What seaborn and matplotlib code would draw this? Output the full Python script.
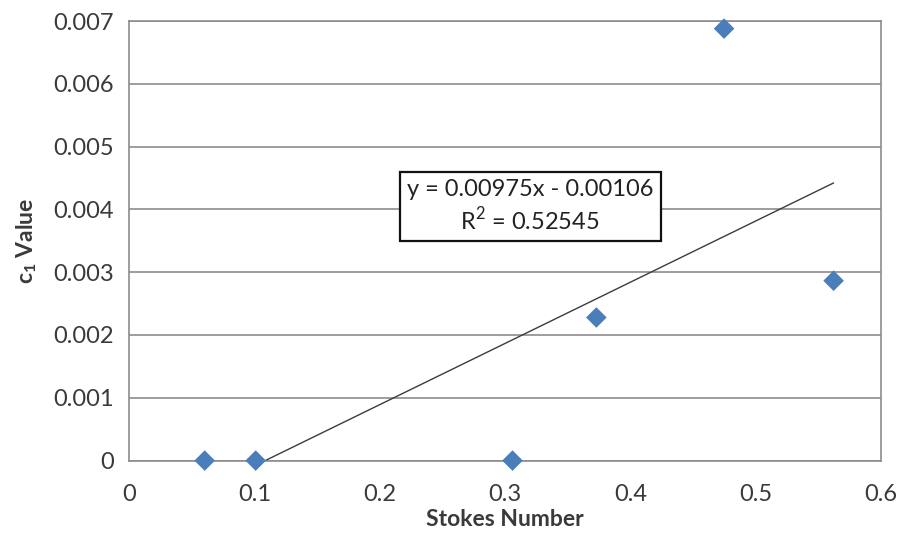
import matplotlib
matplotlib.use("Agg")
import matplotlib.pyplot as plt
import seaborn as sns
import numpy as np
import pandas as pd

# Measured c1 values against Stokes number
stokes = [0.0604, 0.1011, 0.306, 0.3729, 0.4748, 0.5622]
c1_value = [0.0, 0.0, 0.0, 0.002279, 0.006879, 0.002864]

# Linear trendline coefficients and fit quality
slope = 0.00975
intercept = -0.00106
r_squared = 0.52545

x_ticks = [0, 0.1, 0.2, 0.3, 0.4, 0.5, 0.6]
x_tick_labels = ["0", "0.1", "0.2", "0.3", "0.4", "0.5", "0.6"]
y_ticks = [0, 0.001, 0.002, 0.003, 0.004, 0.005, 0.006, 0.007]
y_tick_labels = ["0", "0.001", "0.002", "0.003", "0.004", "0.005", "0.006", "0.007"]

sns.set_theme(style="white")
plt.rcParams["font.family"] = ["Lato", "DejaVu Sans"]
plt.rcParams["mathtext.fontset"] = "custom"
plt.rcParams["mathtext.bf"] = "Lato:bold"
plt.rcParams["mathtext.rm"] = "Lato"

df = pd.DataFrame({"Stokes Number": stokes, "c1": c1_value})

fig = plt.figure(figsize=(9.02, 5.36), dpi=100)
ax = fig.add_axes([0.143, 0.1407, 0.8337, 0.8201])

grid_col = "#8c8c8c"
text_col = "#3a3a3a"

ax.set_xlim(0, 0.6)
ax.set_ylim(0, 0.007)
ax.set_yticks(y_ticks)
ax.set_yticklabels(y_tick_labels)
ax.set_xticks(x_ticks)
ax.set_xticklabels(x_tick_labels)
ax.yaxis.grid(True, color=grid_col, linewidth=1.2)
ax.xaxis.grid(False)
ax.set_axisbelow(True)

# Trendline from the fitted equation over the data range
xs = np.array([min(stokes), max(stokes)])
ax.plot(xs, slope * xs + intercept, color="#3c3c3c", linewidth=1.0, zorder=2)

sns.scatterplot(data=df, x="Stokes Number", y="c1", ax=ax, marker="D", s=110,
                color="#4a7ebb", edgecolor="none", zorder=3, clip_on=False)

for side in ["top", "right", "left", "bottom"]:
    ax.spines[side].set_color(grid_col)
    ax.spines[side].set_linewidth(1.2)

ax.tick_params(axis="both", which="major", direction="out", length=6, width=1.2,
               color=grid_col, labelsize=17, labelcolor=text_col)
ax.tick_params(axis="x", pad=11)
ax.tick_params(axis="y", length=5, pad=6)

ax.set_xlabel("Stokes Number", fontsize=16.5, fontweight="bold", color=text_col, labelpad=3)
ax.set_ylabel(r"$\mathbf{c_1}$ Value", fontsize=16.5, fontweight="bold", color=text_col, labelpad=10)

eq_text = f"y = {slope:.5f}x - {abs(intercept):.5f}\nR$^2$ = {r_squared:.5f}"
ax.text(0.3201, 0.00405, eq_text, ha="center", va="center", fontsize=17,
        color="#222222", linespacing=1.25, zorder=4,
        bbox=dict(boxstyle="square,pad=0.3", facecolor="white",
                  edgecolor="#111111", linewidth=1.6))

fig.savefig("out.png", dpi=100)
